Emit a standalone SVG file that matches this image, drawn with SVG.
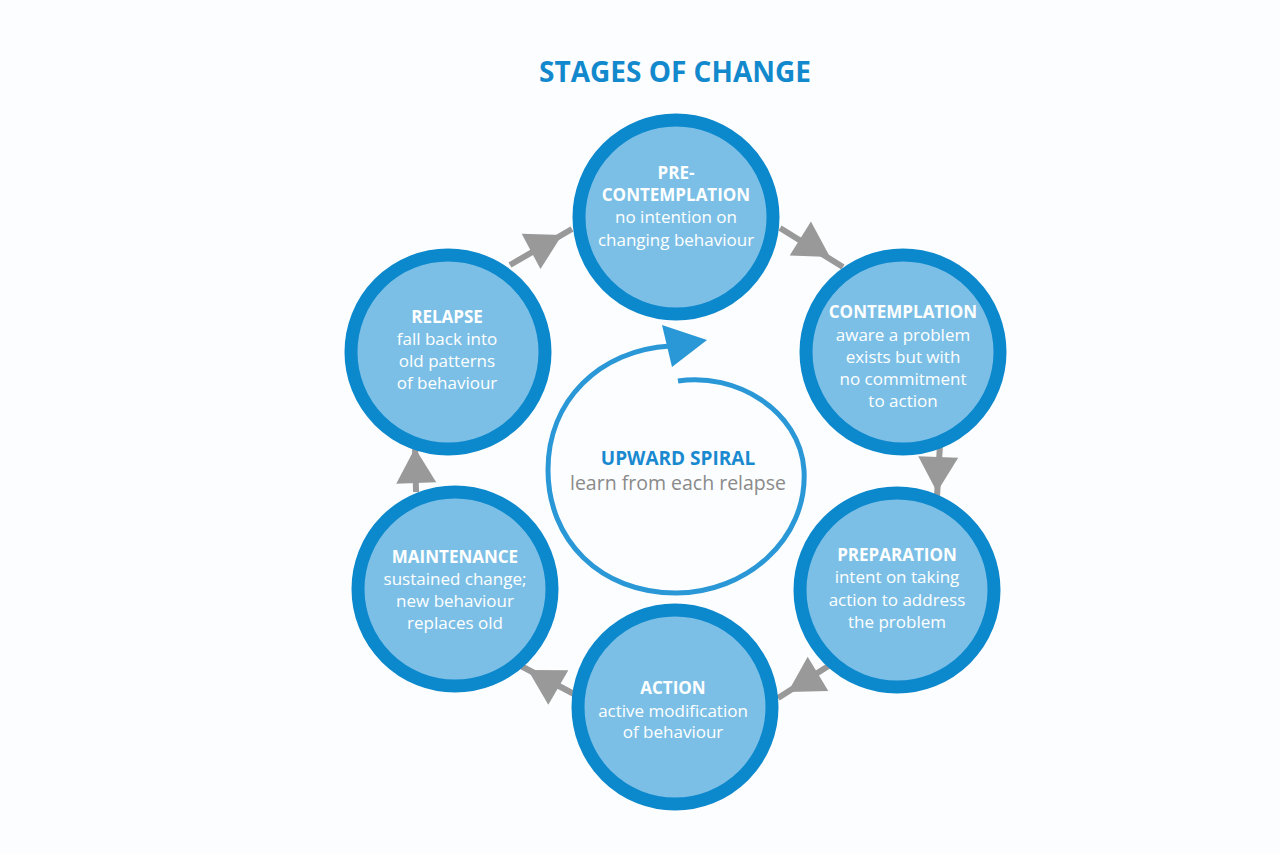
<svg xmlns="http://www.w3.org/2000/svg" width="1280" height="854" viewBox="0 0 1280 854">
<defs>
<style>
.ring{fill:#7bbfe6;stroke:#0c88cd;stroke-width:13}
.hd{font-family:"Open Sans","Liberation Sans",sans-serif;font-weight:700;font-size:17px;fill:#ffffff;text-anchor:middle}
.bd{font-family:"Open Sans","Liberation Sans",sans-serif;font-weight:400;font-size:17px;fill:#ffffff;text-anchor:middle}
.conn{stroke:#999999;stroke-width:6;fill:none}
.tri{fill:#999999}
</style>
<path id="arrowhead" d="M0,0 L-35,-20 L-35,20 Z"/>
</defs>
<rect width="1280" height="854" fill="#fcfdfe"/>
<text x="675" y="82" font-family="'Open Sans','Liberation Sans',sans-serif" font-weight="700" font-size="28" fill="#1389cd" text-anchor="middle">STAGES OF CHANGE</text>

<g id="connectors">
<line class="conn" x1="780" y1="228" x2="843" y2="267"/>
<use href="#arrowhead" class="tri" transform="translate(830,257) rotate(32)"/>
<line class="conn" x1="940" y1="444" x2="937" y2="497"/>
<use href="#arrowhead" class="tri" transform="translate(937,492) rotate(92)"/>
<line class="conn" x1="830" y1="665" x2="778" y2="698"/>
<use href="#arrowhead" class="tri" transform="translate(788,692) rotate(149)"/>
<line class="conn" x1="574" y1="694" x2="521" y2="666"/>
<use href="#arrowhead" class="tri" transform="translate(528,670) rotate(210)"/>
<line class="conn" x1="416" y1="492" x2="415" y2="444"/>
<use href="#arrowhead" class="tri" transform="translate(415,448) rotate(268)"/>
<line class="conn" x1="510" y1="265" x2="572" y2="229"/>
<use href="#arrowhead" class="tri" transform="translate(562,235) rotate(-28)"/>
</g>

<g id="spiral">
<path d="M678,381 C735,372 800,410 804,470 C808,540 745,593 676,593 C600,593 548,540 548,470 C548,400 600,350 670,346" fill="none" stroke="#2a97d6" stroke-width="5"/>
<path d="M707,340 L662,325 L672,367 Z" fill="#2a97d6"/>
<text x="678" y="465" font-family="'Open Sans','Liberation Sans',sans-serif" font-weight="700" font-size="19" fill="#1a8ad0" text-anchor="middle">UPWARD SPIRAL</text>
<text x="678" y="490" font-family="'Open Sans','Liberation Sans',sans-serif" font-size="19.5" fill="#8a8a8a" text-anchor="middle">learn from each relapse</text>
</g>

<g id="precontemplation">
<circle class="ring" cx="676" cy="217" r="97"/>
<text class="hd" x="676" y="179">PRE-</text>
<text class="hd" x="676" y="201">CONTEMPLATION</text>
<text class="bd" x="676" y="223">no intention on</text>
<text class="bd" x="676" y="246">changing behaviour</text>
</g>

<g id="contemplation">
<circle class="ring" cx="903" cy="352" r="97"/>
<text class="hd" x="903" y="318">CONTEMPLATION</text>
<text class="bd" x="903" y="341">aware a problem</text>
<text class="bd" x="903" y="363">exists but with</text>
<text class="bd" x="903" y="385">no commitment</text>
<text class="bd" x="903" y="407">to action</text>
</g>

<g id="preparation">
<circle class="ring" cx="897" cy="590" r="97"/>
<text class="hd" x="897" y="561">PREPARATION</text>
<text class="bd" x="897" y="583">intent on taking</text>
<text class="bd" x="897" y="606">action to address</text>
<text class="bd" x="897" y="628">the problem</text>
</g>

<g id="action">
<circle class="ring" cx="675" cy="707" r="97"/>
<text class="hd" x="673" y="694">ACTION</text>
<text class="bd" x="673" y="717">active modification</text>
<text class="bd" x="673" y="738">of behaviour</text>
</g>

<g id="maintenance">
<circle class="ring" cx="455" cy="589" r="97"/>
<text class="hd" x="455" y="563">MAINTENANCE</text>
<text class="bd" x="455" y="585">sustained change;</text>
<text class="bd" x="455" y="607">new behaviour</text>
<text class="bd" x="455" y="629">replaces old</text>
</g>

<g id="relapse">
<circle class="ring" cx="448" cy="352" r="97"/>
<text class="hd" x="447" y="323">RELAPSE</text>
<text class="bd" x="447" y="345">fall back into</text>
<text class="bd" x="447" y="367">old patterns</text>
<text class="bd" x="447" y="389">of behaviour</text>
</g>
</svg>
